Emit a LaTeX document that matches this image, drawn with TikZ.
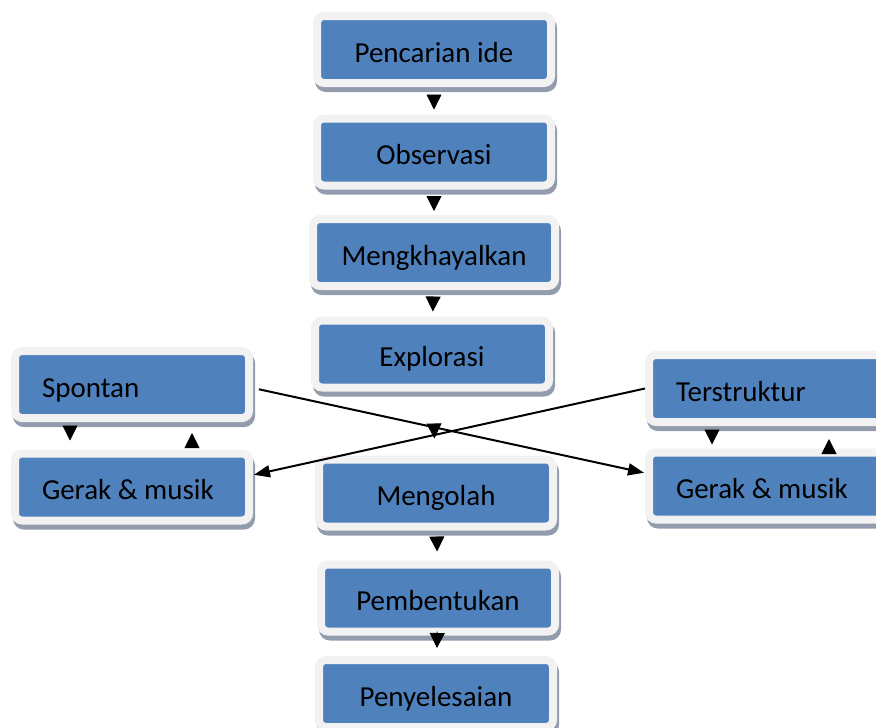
\documentclass[tikz,border=0pt]{standalone}
\usepackage{fontspec}
\setmainfont{Carlito}
\usetikzlibrary{arrows.meta,shadows}
\definecolor{boxblue}{RGB}{79,129,189}
\definecolor{boxrim}{RGB}{242,242,242}
\definecolor{boxshade}{RGB}{146,156,173}
\begin{document}
\begin{tikzpicture}[x=1pt, y=-1pt,
  box/.style={rectangle, rounded corners=7pt, fill=boxblue, draw=boxrim, line width=8pt,
    minimum width=234pt, minimum height=67pt, inner sep=0pt, text height=26pt, text depth=1pt,
    font=\fontsize{29}{33}\selectfont,
    drop shadow={shadow xshift=2pt, shadow yshift=-5pt, fill=boxshade, draw=boxshade, line width=8pt, opacity=1}},
  sidebox/.style={box, text width=180pt, inner xsep=27pt, align=flush left},
  headonly/.style={-{Triangle[width=15pt,length=15pt]}, line width=0.8pt},
  crossline/.style={-{Triangle[width=12pt,length=16pt]}, line width=2pt}]
\useasboundingbox (0,0) rectangle (876,728);
\node[box] (ide) at (434,49.5) {Pencarian ide};
\node[box] (obs) at (434,152) {Observasi};
\node[box, minimum width=242pt] (khayal) at (434,252.5) {Mengkhayalkan};
\node[box] (explor) at (432,354) {Explorasi};
\node[box] (olah) at (436,493) {Mengolah};
\node[box] (bentuk) at (438,598) {Pembentukan};
\node[box] (selesai) at (436,693.5) {Penyelesaian};
\node[sidebox] (spontan) at (132,384.5) {Spontan};
\node[sidebox] (gerakkiri) at (132,487) {Gerak \& musik};
\node[sidebox] (struktur) at (766,388.5) {Terstruktur};
\node[sidebox] (gerakkanan) at (766,486) {Gerak \& musik};

\draw[headonly, shorten >=5pt, shorten <=14pt] (ide) -- (obs);
\draw[headonly, shorten >=4pt, shorten <=13pt] (obs) -- (khayal);
\draw[headonly, shorten >=5pt, shorten <=14pt] (khayal) -- (explor);
\draw[headonly, shorten >=17pt, shorten <=39pt] (explor) -- (olah);
\draw[headonly, shorten >=9pt, shorten <=12pt] (olah) -- (bentuk);
\draw[headonly, shorten >=8pt, shorten <=4pt] (bentuk) -- (selesai);

\draw[headonly, shorten >=9pt, shorten <=10pt] ([xshift=-62pt]spontan.south) -- ([xshift=-62pt]gerakkiri.north);
\draw[headonly, shorten >=11pt, shorten <=8pt] ([xshift=60pt]gerakkiri.north) -- ([xshift=60pt]spontan.south);
\draw[headonly, shorten >=4pt, shorten <=11pt] ([xshift=-54pt]struktur.south) -- ([xshift=-54pt]gerakkanan.north);
\draw[headonly, shorten >=13pt, shorten <=2pt] ([xshift=63pt]gerakkanan.north) -- ([xshift=63pt]struktur.south);

\draw[crossline, shorten <=6pt, shorten >=1pt] ([yshift=-3.5pt]spontan.east) -- ([yshift=13pt]gerakkanan.west);
\draw[crossline, shorten >=1pt] (struktur.west) -- ([yshift=12pt]gerakkiri.east);
\end{tikzpicture}
\end{document}
